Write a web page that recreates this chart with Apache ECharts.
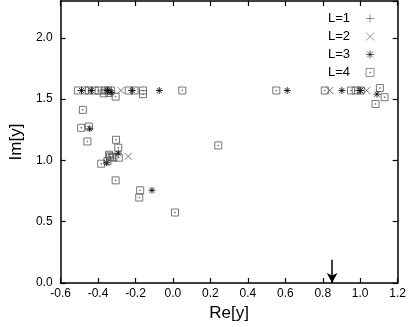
<!DOCTYPE html>
<html><head><meta charset="utf-8">
<script src="https://cdn.jsdelivr.net/npm/echarts@6/dist/echarts.min.js"></script>
<style>html,body{margin:0;padding:0;background:#fff}#c{width:409px;height:327px}</style>
</head><body><div id="c"></div>
<script>
// Data (Re[y], Im[y])
var L1 = [[-0.35,1.57],[1.0,1.57]];
var L2 = [[-0.345,1.57],[-0.278,1.57],[0.837,1.57],[1.0,1.57],[1.035,1.57],[-0.239,1.033]];
var L3 = [[-0.488,1.57],[-0.436,1.57],[-0.35,1.57],[-0.33,1.555],[-0.218,1.57],[-0.073,1.57],
          [0.61,1.57],[0.902,1.57],[1.0,1.57],[1.09,1.54],
          [-0.444,1.258],[-0.292,1.059],[-0.353,0.981],[-0.112,0.756]];
var L4 = [[-0.507,1.57],[-0.470,1.57],[-0.449,1.57],[-0.418,1.57],[-0.397,1.57],[-0.364,1.57],
          [-0.348,1.57],[-0.33,1.57],[-0.236,1.57],[-0.205,1.57],[-0.160,1.57],[0.05,1.57],
          [0.552,1.57],[0.811,1.57],[0.951,1.57],[0.976,1.57],[1.003,1.57],[1.105,1.59],
          [-0.160,1.54],[-0.37,1.547],[-0.306,1.52],[-0.34,1.55],[1.13,1.515],[1.082,1.46],
          [-0.481,1.412],[-0.490,1.266],[-0.449,1.276],[-0.457,1.154],[-0.304,1.168],
          [-0.292,1.103],[-0.289,1.022],[-0.318,1.022],[-0.336,1.033],[-0.327,1.027],
          [-0.341,1.046],[-0.350,0.994],[-0.383,0.973],[-0.306,0.837],[-0.175,0.756],
          [-0.180,0.697],[0.011,0.575],[0.242,1.122]];
var seriesNames = ['L=1','L=2','L=3','L=4'];
var arrowX = 0.85, arrowTop = 0.19, arrowBottom = 0;

var symPlus = 'path://M5,0V10M0,5H10';
var symCross = 'path://M0,0L10,10M10,0L0,10';
var symStar = 'path://M5,0V10M0,5H10M1.5,1.5L8.5,8.5M8.5,1.5L1.5,8.5';
var symBox = 'path://M0,0H10V10H0ZM4.5,4.5H5.5V5.5H4.5Z';

function sc(name, data, sym, size, col, z) {
  return {name:name, type:'scatter', data:data, symbol:sym, symbolSize:size, z:z,
    itemStyle:{color:'rgba(0,0,0,0)', borderColor:col, borderWidth:1}};
}
var chart = echarts.init(document.getElementById('c'));
function ax(extra){
  return Object.assign({
    axisLine:{onZero:false,lineStyle:{color:'#000',width:1.5}},
    axisTick:{inside:true,length:5,lineStyle:{color:'#000',width:1.2}},
    splitLine:{show:false}}, extra);
}
chart.setOption({
  animation:false,
  textStyle:{fontFamily:'Liberation Sans'},
  grid:{left:58,right:9,top:1,bottom:44},
  legend:{orient:'vertical',left:323,top:7,align:'right',itemWidth:8,itemHeight:8,itemGap:5,
    data:seriesNames, itemStyle:{borderWidth:0.8},
    textStyle:{fontSize:13,color:'#000',padding:[0,11,0,0],fontFamily:'Liberation Sans'}},
  xAxis:[ax({type:'value',min:-0.6,max:1.2,interval:0.2,position:'bottom',
      name:'Re[y]',nameLocation:'middle',nameGap:19,
      nameTextStyle:{fontSize:17,color:'#000'},
      axisLabel:{color:'#000',fontSize:12,margin:5,formatter:function(v){return v.toFixed(1);}}}),
    ax({type:'value',min:-0.6,max:1.2,interval:0.2,position:'top',axisLabel:{show:false}})],
  yAxis:[ax({type:'value',min:0,max:2.3,interval:0.5,position:'left',
      name:'Im[y]',nameLocation:'middle',nameGap:29,
      nameTextStyle:{fontSize:17,color:'#000'},
      axisLabel:{color:'#000',fontSize:12,margin:8,showMaxLabel:false,formatter:function(v){return v.toFixed(1);}}}),
    ax({type:'value',min:0,max:2.3,interval:0.5,position:'right',axisLabel:{show:false}})],
  series:[
    sc(seriesNames[0], L1, symPlus, 7, '#555', 4),
    sc(seriesNames[1], L2, symCross, 7, '#555', 3),
    sc(seriesNames[2], L3, symStar, 7, '#000', 5),
    sc(seriesNames[3], L4, symBox, 7, '#555', 2),
    {type:'line', data:[], silent:true,
     markLine:{silent:true, symbol:['none','arrow'], symbolSize:[8,10], label:{show:false},
       lineStyle:{color:'#000',width:1.5,type:'solid'},
       data:[[{coord:[arrowX,arrowTop]},{coord:[arrowX,arrowBottom]}]]}}
  ]
});
</script></body></html>
